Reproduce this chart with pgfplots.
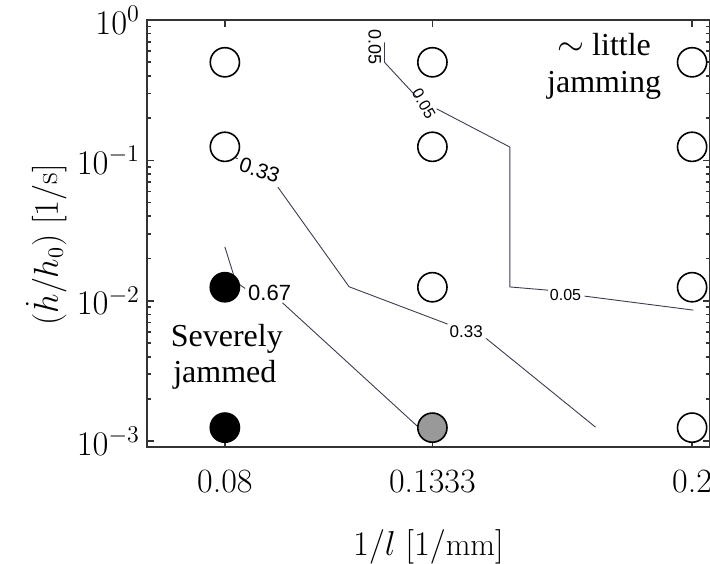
\documentclass[border=0pt]{standalone}
\usepackage{pgfplots}
\pgfplotsset{compat=1.18}
\usepackage{fontspec}
\newfontfamily\tnr{Liberation Serif}
\newfontfamily\hv{Liberation Sans}
\definecolor{cline}{RGB}{60,60,80}
\begin{document}
\begin{tikzpicture}
\begin{axis}[
  scale only axis, width=281.5pt, height=213.5pt,
  xmin=0.06, xmax=0.2046,
  ymode=log, ymin=9.1e-4, ymax=1,
  xtick={0.08,0.1333,0.2}, xticklabels={0.08,0.1333,0.2},
  ytick={1e-3,1e-2,1e-1,1},
  tick align=inside, major tick length=3.5pt, minor tick length=2pt,
  axis line style={line width=1.1pt, black!80},
  every tick/.style={black!80, line width=0.8pt},
  tick label style={font=\fontsize{17}{20}\selectfont},
  xticklabel style={yshift=-8pt},
  xlabel={$1/l\ [1/\mathrm{mm}]$},
  ylabel={$(\dot h/h_0)\ [1/\mathrm{s}]$},
  label style={font=\fontsize{16}{19}\selectfont},
  xlabel style={at={(axis description cs:0.5,-0.234)}, anchor=center},
  ylabel style={at={(axis description cs:-0.179,0.473)}, anchor=center, rotate=0},
]
% circles
\addplot[only marks, mark=*, mark size=7.3pt, mark options={draw=black, fill=white, line width=0.8pt}] coordinates {
 (0.08,0.5) (0.08,0.125) (0.1333,0.5) (0.1333,0.125) (0.1333,0.0125)
 (0.2,0.5) (0.2,0.125) (0.2,0.0125) (0.2,0.00125)};
\addplot[only marks, mark=*, mark size=7.3pt, mark options={draw=black, fill=black, line width=0.8pt}] coordinates {
 (0.08,0.0125) (0.08,0.00125)};
\addplot[only marks, mark=*, mark size=7.3pt, mark options={draw=black, fill=black!40, line width=0.8pt}] coordinates {
 (0.1333,0.00125)};
% contour 0.05
\addplot[cline, line width=0.45pt] coordinates {(0.1210,0.693) (0.1210,0.5) (0.1293,0.282)};
\addplot[cline, line width=0.45pt] coordinates {(0.1344,0.233) (0.1532,0.1245) (0.1532,0.01256) (0.1630,0.01191)};
\addplot[cline, line width=0.45pt] coordinates {(0.1724,0.01080) (0.2003,0.00859)};
% contour 0.33
\addplot[cline, line width=0.45pt] coordinates {(0.08,0.1127) (0.0833,0.1028)};
\addplot[cline, line width=0.45pt] coordinates {(0.0936,0.0646) (0.1119,0.0126) (0.1372,0.00683)};
\addplot[cline, line width=0.45pt] coordinates {(0.1471,0.0054) (0.1752,0.00126)};
% contour 0.67
\addplot[cline, line width=0.45pt] coordinates {(0.08,0.0242) (0.0828,0.01365) (0.0852,0.01225)};
\addplot[cline, line width=0.45pt] coordinates {(0.0948,0.00968) (0.1297,0.00126)};
% contour labels
\node[font=\hv\fontsize{9}{10}\selectfont, rotate=-90, inner sep=0pt] at (axis cs:0.1185,0.646) {0.05};
\node[font=\hv\fontsize{8}{9}\selectfont, rotate=-60, inner sep=0pt] at (axis cs:0.1311,0.254) {0.05};
\node[font=\hv\fontsize{8}{9}\selectfont] at (axis cs:0.1675,0.0110) {0.05};
\node[font=\hv\fontsize{10.5}{12}\selectfont, rotate=-18] at (axis cs:0.0889,0.0849) {0.33};
\node[font=\hv\fontsize{8.5}{10}\selectfont] at (axis cs:0.1420,0.00602) {0.33};
\node[font=\hv\fontsize{11}{12}\selectfont] at (axis cs:0.0915,0.01143) {0.67};
% region labels
\node[font=\tnr\fontsize{16}{18}\selectfont, anchor=base] at (axis cs:0.1774,0.557) {$\sim$ little};
\node[font=\tnr\fontsize{16}{18}\selectfont, anchor=base] at (axis cs:0.1774,0.306) {jamming};
\node[font=\tnr\fontsize{16}{18}\selectfont, anchor=base] at (axis cs:0.0805,0.00471) {Severely};
\node[font=\tnr\fontsize{16}{18}\selectfont, anchor=base] at (axis cs:0.08,0.0026) {jammed};
\end{axis}
\pgfresetboundingbox
\path ([shift={(-73.5pt,-58.5pt)}]current axis.south west) rectangle ([shift={(0pt,10pt)}]current axis.north east);
\end{tikzpicture}
\end{document}
